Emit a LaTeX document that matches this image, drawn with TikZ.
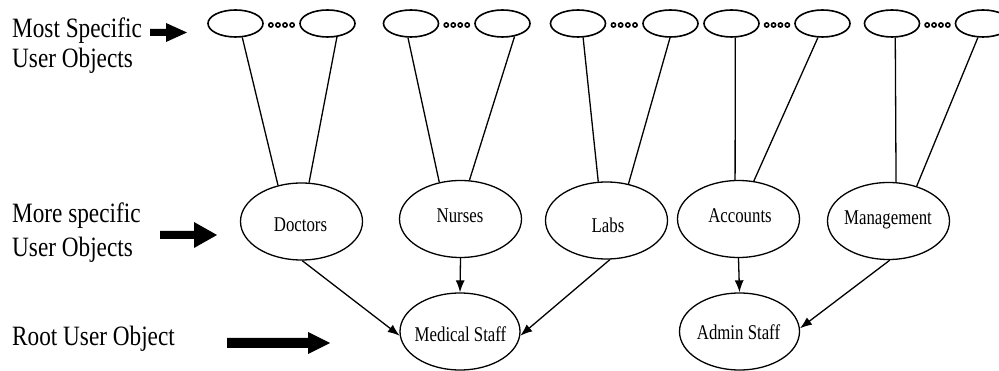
\documentclass[tikz,border=0pt]{standalone}
\usepackage{fontspec}
\setmainfont{Liberation Serif}
\newfontfamily\sidefont[FakeStretch=0.83]{Liberation Serif}
\newfontfamily\nodefont[FakeStretch=0.8]{Liberation Serif}
\usetikzlibrary{arrows.meta,shapes.geometric,calc}

\begin{document}
\begin{tikzpicture}[x=1pt,y=-1pt,
  leaf/.style={draw, ellipse, line width=1.6pt, minimum width=55pt, minimum height=27pt, inner sep=0pt},
  group/.style={draw, ellipse, line width=1.3pt, minimum width=122pt, minimum height=77pt, inner sep=0pt},
  rootobj/.style={draw, ellipse, line width=1.3pt, minimum width=120pt, minimum height=77pt, inner sep=0pt},
  lbl/.style={anchor=base, inner sep=0pt, font=\nodefont\fontsize{21}{25}\selectfont},
  side/.style={anchor=base west, inner sep=0pt, font=\sidefont\fontsize{28}{32}\selectfont},
  link/.style={line width=1.3pt},
  flow/.style={line width=1.3pt, -{Latex[length=12pt,width=9pt]}},
  pointer/.style={fill=black}
]
\useasboundingbox (0,0) rectangle (999,371);
\clip (0,0) rectangle (999,371);

% ---- side captions ----
\node[side] (capA1) at (12,38) {Most Specific};
\node[side] (capA2) at (12,68) {User Objects};
\node[side] (capB1) at (12,223) {More specific};
\node[side] (capB2) at (12,257) {User Objects};
\node[side] (capC)  at (12,345) {Root User Object};

% ---- block pointers ----
\fill[pointer] (150,29) -- (166,29) -- (166,23) -- (187,32.5) -- (166,42) -- (166,36) -- (150,36) -- cycle;
\fill[pointer] (160,231) -- (194,231) -- (194,222) -- (217,235) -- (194,248) -- (194,239) -- (160,239) -- cycle;
\fill[pointer] (227,338) -- (308,338) -- (308,332) -- (330,343) -- (308,354) -- (308,348) -- (227,348) -- cycle;

% ---- most specific objects ----
\node[leaf] (t1a) at (235.5,23.5) {};
\node[leaf] (t1b) at (327.5,23.5) {};
\node[leaf] (t2a) at (411,23.5) {};
\node[leaf] (t2b) at (502.5,23.5) {};
\node[leaf] (t3a) at (578,23.5) {};
\node[leaf] (t3b) at (670.5,23.5) {};
\node[leaf] (t4a) at (731.5,23.5) {};
\node[leaf] (t4b) at (822.5,23.5) {};
\node[leaf] (t5a) at (892,23.5) {};
\node[leaf] (t5b) at (983,23.5) {};

% ellipsis dots between each pair
\foreach \a/\b in {t1a/t1b,t2a/t2b,t3a/t3b,t4a/t4b,t5a/t5b}{
  \foreach \p in {0.2,0.4,0.6,0.8}{
    \draw[line width=1.6pt] ($(\a.east)!\p!(\b.west)+(0,1.5)$) circle (2.1pt);
  }
}

% ---- more specific objects ----
\node[group] (doc) at (301.5,221.5) {};
\node[group] (nur) at (460.5,219) {};
\node[group] (lab) at (606.5,220.5) {};
\node[group] (acc) at (738.5,219) {};
\node[group] (man) at (888.5,221) {};

\node[lbl] (docT) at (300.5,232) {Doctors};
\node[lbl] (nurT) at (460,223) {Nurses};
\node[lbl] (labT) at (608,233) {Labs};
\node[lbl] (accT) at (740,223) {Accounts};
\node[lbl] (manT) at (888,225) {Management};

% ---- root objects ----
\node[rootobj] (med) at (460,331.5) {};
\node[rootobj] (adm) at (739.5,331.5) {};
\node[lbl] (medT) at (460.5,342) {Medical Staff};
\node[lbl] (admT) at (738.5,340) {Admin Staff};

% ---- links from most specific objects ----
\draw[link] (t1a.-64)  -- (doc.123);
\draw[link] (t1b.-55)  -- (doc.79);
\draw[link] (t2a.-102) -- (nur.120);
\draw[link] (t2b.-47)  -- (nur.77);
\draw[link] (t3a.-70)  -- (lab.102);
\draw[link] (t3b.-92)  -- (lab.59);
\draw[link] (t4a.-75)  -- (acc.95);
\draw[link] (t4b.-108) -- (acc.68);
\draw[link] (t5a.-77)  -- (man.79);
\draw[link] (t5b.-110) -- (man.51);

% ---- inheritance towards the roots ----
\draw[flow] (doc.-89) -- (med.184);
\draw[flow] (nur.south) -- (med.north);
\draw[flow] (lab.-85) -- (med.-4);
\draw[flow] (acc.south) -- (adm.north);
\draw[flow] (man.-88) -- (adm.3);
\end{tikzpicture}
\end{document}
